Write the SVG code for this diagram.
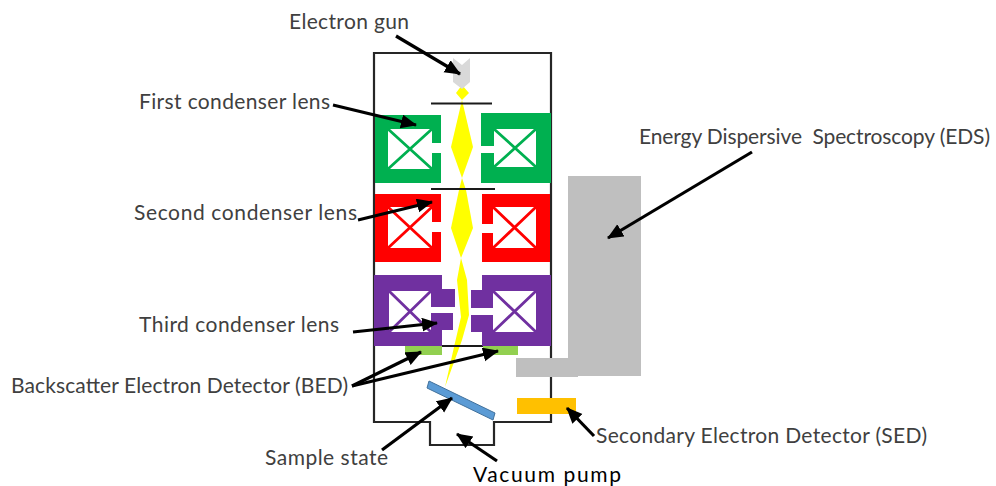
<svg xmlns="http://www.w3.org/2000/svg" width="996" height="486" viewBox="0 0 996 486">
<style>
text{font-family:"Lato","Noto Sans","Liberation Sans",sans-serif;font-size:21px;fill:#404040;white-space:pre}
.frame{fill:none;stroke:#262626;stroke-width:2.2}
.bar{stroke:#1a1a1a;stroke-width:2;fill:none}
.win{fill:#fff}
.xg{stroke:#00b050;stroke-width:2.8}.xr{stroke:#ff0000;stroke-width:2.8}.xp{stroke:#7030a0;stroke-width:2.8}
.arr{stroke:#000;stroke-width:3.2;fill:none;marker-end:url(#ah)}
.beam{fill:#ffff00}
</style>
<defs><marker id="ah" markerUnits="userSpaceOnUse" markerWidth="18" markerHeight="16" refX="15" refY="7" orient="auto"><path d="M0 0L16 7L0 14Z" fill="#000"/></marker></defs>
<rect width="996" height="486" fill="#fff"/>
<g id="column"><path class="frame" d="M374 53H551V422H494V445H430V422H374Z"/></g>
<g id="beam"><path class="beam" d="M462 85L469 93L462 100L456 93Z"/><path class="beam" d="M462 100L473 147L462 178L451 147Z"/><path class="beam" d="M462 178L466 190L473 228L461 258L451 228L459 190Z"/><path class="beam" d="M461 258L467 280L469 315L462 340L445 387L454 347L461 317L457 280Z"/></g>
<g id="electron-gun"><path fill="#d9d9d9" d="M453 58L462 65L470 58V82L462 89L453 82Z"/></g>
<g id="apertures"><path class="bar" d="M431 103.500H492M431 189H495M442 346H483"/></g>
<g id="first-lens-left"><path fill="#00b050" d="M375 115H441V143H432V153H441V183H375Z"/><rect class="win" x="388" y="129" width="44" height="40"/><path class="xg" d="M388 129L432 169M432 129L388 169"/></g>
<g id="first-lens-right"><path fill="#00b050" d="M481 113H551V183H481V153H494V146H481Z"/><rect class="win" x="494" y="129" width="42" height="38"/><path class="xg" d="M494 129L536 167M536 129L494 167"/></g>
<g id="second-lens-left"><path fill="#ff0000" d="M375 194H441V222H432V232H441V262H375Z"/><rect class="win" x="388" y="207" width="44" height="41"/><path class="xr" d="M388 207L432 248M432 207L388 248"/></g>
<g id="second-lens-right"><path fill="#ff0000" d="M482 194H550V262H482V233H493V224H482Z"/><rect class="win" x="493" y="207" width="43" height="41"/><path class="xr" d="M493 207L536 248M536 207L493 248"/></g>
<g id="third-lens-left"><path fill="#7030a0" d="M374 275H442V289H455V307H431V313H453V330H442V346H374Z"/><rect class="win" x="389" y="291" width="42" height="41"/><path class="xp" d="M389 291L431 332M431 291L389 332"/></g>
<g id="third-lens-right"><path fill="#7030a0" d="M482 275H551V346H482V332H471V315H493V308H471V290H482Z"/><rect class="win" x="493" y="291" width="43" height="41"/><path class="xp" d="M493 291L536 332M536 291L493 332"/></g>
<g id="bed"><rect x="405" y="346" width="37" height="9" fill="#92d050"/><rect x="483" y="346" width="35" height="9" fill="#92d050"/></g>
<g id="eds"><path fill="#bfbfbf" d="M568 176H641V376H578V377H516V358H568Z"/></g>
<g id="sed"><rect x="517" y="398" width="59" height="16" fill="#ffc000"/></g>
<g id="sample"><path fill="#5b9bd5" stroke="#41719c" d="M429 381L495 413L493 420L427 388Z"/></g>
<g id="connectors">
<path class="arr" d="M396 36L460 74"/>
<path class="arr" d="M333 105L416 125"/>
<path class="arr" d="M358 220L432 202"/>
<path class="arr" d="M353 332L437 323"/>
<path class="arr" d="M352 386L421 352"/>
<path class="arr" d="M352 386L498 351"/>
<path class="arr" d="M382 450L452 398"/>
<path class="arr" d="M497 461L457 434"/>
<path class="arr" d="M594 436L567 408"/>
<path class="arr" d="M752 152L608 238"/>
</g>
<g id="labels">
<text x="289" y="29" textLength="120">Electron gun</text>
<text x="139" y="109" textLength="191">First condenser lens</text>
<text x="134" y="220" textLength="223">Second condenser lens</text>
<text x="139" y="332" textLength="200">Third condenser lens</text>
<text x="11" y="393" textLength="337">Backscatter Electron Detector (BED)</text>
<text x="265" y="465" textLength="123">Sample state</text>
<text x="596" y="443" textLength="331">Secondary Electron Detector (SED)</text>
<text x="639" y="144" textLength="351">Energy Dispersive  Spectroscopy (EDS)</text>
<text x="473" y="482" textLength="148" style="fill:#000">Vacuum pump</text>
</g>
</svg>
